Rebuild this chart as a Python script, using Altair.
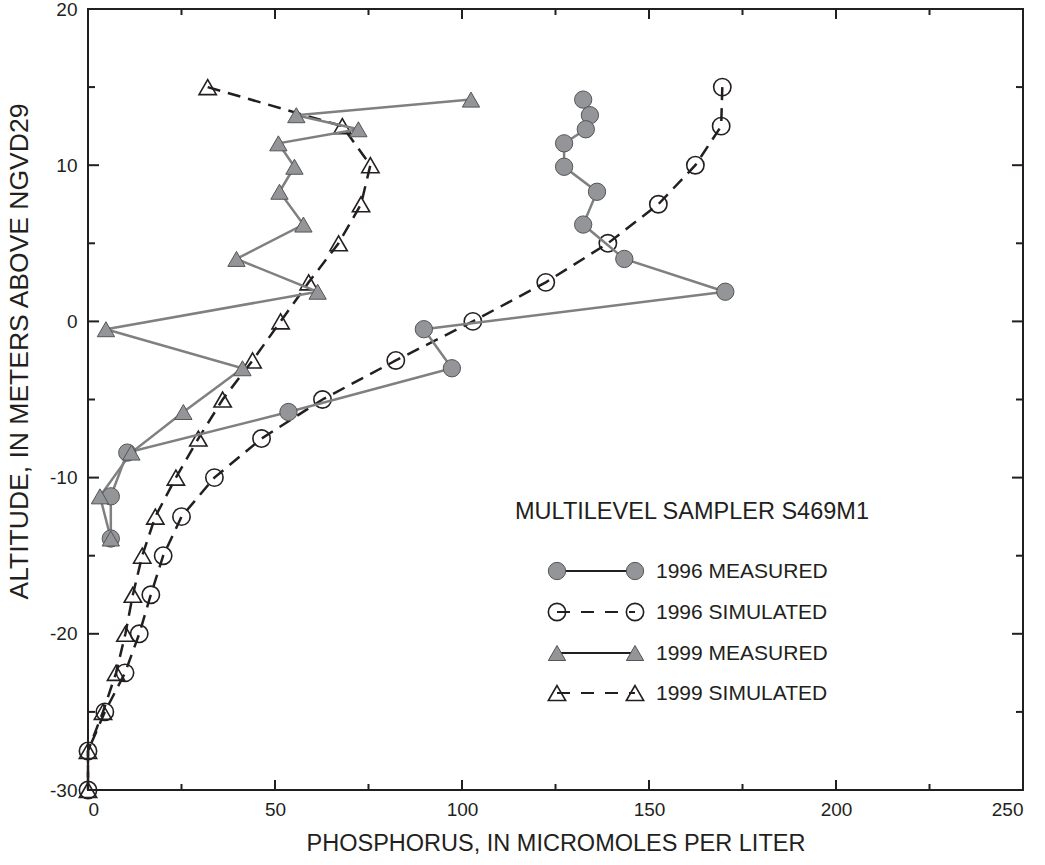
import altair as alt
import pandas as pd

# ---- data ----
measured_alt = [14.2, 13.2, 12.3, 11.4, 9.9, 8.3, 6.2, 4.0, 1.9, -0.5, -3.0, -5.8, -8.4, -11.2, -13.9]
p1996_measured = [132.4, 134.2, 133.1, 127.3, 127.3, 136.1, 132.4, 143.4, 170.4, 89.8, 97.3, 53.6, 10.5, 6.1, 6.1]
p1999_measured = [102.4, 55.7, 72.3, 50.9, 55.2, 51.2, 57.6, 39.7, 61.4, 4.8, 41.3, 25.5, 11.6, 3.2, 6.1]

sim_alt = [15, 12.5, 10, 7.5, 5, 2.5, 0, -2.5, -5, -7.5, -10, -12.5, -15, -17.5, -20, -22.5, -25, -27.5, -30]
p1996_sim = [169.6, 169.3, 162.4, 152.5, 139.0, 122.4, 102.9, 82.3, 62.7, 46.4, 33.8, 25.0, 20.1, 16.8, 13.7, 9.9, 4.5, 0.0, 0.0]
p1999_sim = [32.0, 68.0, 75.5, 73.0, 67.0, 59.0, 51.5, 44.0, 36.0, 29.5, 23.5, 18.0, 14.5, 12.0, 10.0, 7.5, 4.0, 0.0, 0.0]

x_major = [0, 50, 100, 150, 200, 250]
x_minor = [25, 75, 125, 175, 225]
y_major = [-30, -20, -10, 0, 10, 20]
y_minor = [-25, -15, -5, 5, 15]

legend_title = "MULTILEVEL SAMPLER S469M1"
legend_labels = ["1996 MEASURED", "1996 SIMULATED", "1999 MEASURED", "1999 SIMULATED"]

# ---- layout constants ----
W, H = 935, 781
FONT = "Liberation Sans"
INK = "#231f20"
GRAY_FILL = "#939598"
GRAY_LINE = "#808080"
MSIZE = 300
HYPHEN_LABEL = "datum.value < 0 ? '-' + abs(datum.value) : '' + datum.value"

xs = alt.Scale(domain=[0, 250], nice=False, zero=False)
ys = alt.Scale(domain=[-30, 20], nice=False, zero=False)


def frame(vals, alts):
    return pd.DataFrame({"p": vals, "alt": alts, "i": list(range(len(vals)))})


d96m = frame(p1996_measured, measured_alt)
d99m = frame(p1999_measured, measured_alt)
d96s = frame(p1996_sim, sim_alt)
d99s = frame(p1999_sim, sim_alt)

X = alt.X("p:Q", scale=xs,
          axis=alt.Axis(values=x_major, ticks=False, domain=False, grid=False,
                        labelFontSize=19, labelPadding=10, labelColor=INK,
                        title="PHOSPHORUS, IN MICROMOLES PER LITER",
                        titleFontSize=23.5, titleFontWeight="normal", titleColor=INK,
                        titlePadding=12))
Y = alt.Y("alt:Q", scale=ys,
          axis=alt.Axis(values=y_major, ticks=False, domain=False, grid=False,
                        labelFontSize=19, labelPadding=11, labelColor=INK,
                        labelExpr=HYPHEN_LABEL,
                        title="ALTITUDE, IN METERS ABOVE NGVD29",
                        titleFontSize=26.5, titleFontWeight="normal", titleColor=INK,
                        titleX=-69, titleY=342, titleAngle=270,
                        titleAlign="center", titleBaseline="middle"))

sim_line_style = dict(color=INK, strokeWidth=2.5, strokeDash=[13, 8])
meas_line_style = dict(color=GRAY_LINE, strokeWidth=2.5)

l96s = alt.Chart(d96s).mark_line(**sim_line_style).encode(x=X, y=Y, order="i:Q")
l99s = alt.Chart(d99s).mark_line(**sim_line_style).encode(x=X, y=Y, order="i:Q")
p96s = alt.Chart(d96s).mark_point(shape="circle", filled=False, stroke=INK, strokeWidth=1.6,
                                  size=MSIZE, opacity=1).encode(x=X, y=Y)
p99s = alt.Chart(d99s).mark_point(shape="triangle-up", filled=False, stroke=INK, strokeWidth=1.6,
                                  size=MSIZE, opacity=1).encode(x=X, y=Y)

l96m = alt.Chart(d96m).mark_line(**meas_line_style).encode(x=X, y=Y, order="i:Q")
l99m = alt.Chart(d99m).mark_line(**meas_line_style).encode(x=X, y=Y, order="i:Q")
p96m = alt.Chart(d96m).mark_point(shape="circle", filled=True, fill=GRAY_FILL, stroke="#555555",
                                  strokeWidth=1, size=MSIZE, opacity=1).encode(x=X, y=Y)
p99m = alt.Chart(d99m).mark_point(shape="triangle-up", filled=True, fill=GRAY_FILL, stroke="#555555",
                                  strokeWidth=1, size=MSIZE, opacity=1).encode(x=X, y=Y)


# inward tick marks on all four sides
def xticks(vals, length):
    d = pd.DataFrame({"p": vals})
    bot = alt.Chart(d).mark_rule(color=INK, strokeWidth=2).encode(
        x=X, y=alt.value(H), y2=alt.value(H - length))
    top = alt.Chart(d).mark_rule(color=INK, strokeWidth=2).encode(
        x=X, y=alt.value(0), y2=alt.value(length))
    return [bot, top]


def yticks(vals, length):
    d = pd.DataFrame({"alt": vals})
    left = alt.Chart(d).mark_rule(color=INK, strokeWidth=2).encode(
        y=Y, x=alt.value(0), x2=alt.value(length))
    right = alt.Chart(d).mark_rule(color=INK, strokeWidth=2).encode(
        y=Y, x=alt.value(W), x2=alt.value(W - length))
    return [left, right]


ticks = xticks(x_major, 10) + xticks(x_minor, 6) + yticks(y_major, 11) + yticks(y_minor, 7)

# ---- manual legend ----
one = pd.DataFrame({"k": [0]})
LX1, LX2, TX = 469, 547, 568
rows_y = [562, 603, 644, 684]

leg = [alt.Chart(one).mark_text(text=legend_title, font=FONT, fontSize=23.5, color=INK,
                                align="center", baseline="middle").encode(
    x=alt.value(604), y=alt.value(503))]

kinds = [("circle", True, False), ("circle", False, True),
         ("triangle-up", True, False), ("triangle-up", False, True)]
for (shape, filled, dashed), ry, lab in zip(kinds, rows_y, legend_labels):
    line_kw = dict(color=INK, strokeWidth=2)
    if dashed:
        line_kw["strokeDash"] = [13, 11]
    leg.append(alt.Chart(one).mark_rule(**line_kw).encode(
        x=alt.value(LX1), x2=alt.value(LX2), y=alt.value(ry)))
    for mx in (LX1, LX2):
        if filled:
            m = alt.Chart(one).mark_point(shape=shape, filled=True, fill=GRAY_FILL, stroke="#555555",
                                          strokeWidth=1, size=MSIZE, opacity=1)
        else:
            m = alt.Chart(one).mark_point(shape=shape, filled=False, stroke=INK, strokeWidth=1.6,
                                          size=MSIZE, opacity=1)
        leg.append(m.encode(x=alt.value(mx), y=alt.value(ry)))
    leg.append(alt.Chart(one).mark_text(text=lab, font=FONT, fontSize=21, color=INK,
                                        align="left", baseline="middle").encode(
        x=alt.value(TX), y=alt.value(ry + 1)))

chart = alt.layer(
    *ticks, l96s, l99s, p96s, p99s, l96m, l99m, p96m, p99m, *leg
).properties(
    width=W, height=H,
    background="white",
    autosize=alt.AutoSizeParams(type="none"),
    padding={"left": 88, "top": 9, "right": 1045 - 88 - W, "bottom": 865 - 9 - H},
).configure_view(
    stroke=INK, strokeWidth=2
).configure_axis(
    labelFont=FONT, titleFont=FONT
)

chart.save("out.html", embed_options={"renderer": "svg", "actions": False})
